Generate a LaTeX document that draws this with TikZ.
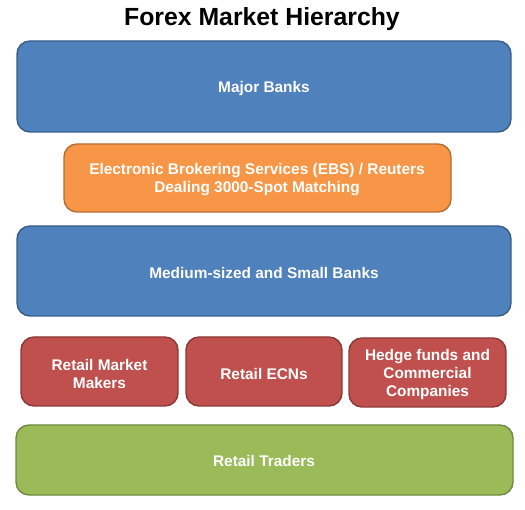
\documentclass[tikz,border=0pt]{standalone}
\usepackage{fontspec}
\setmainfont{Liberation Sans}
\definecolor{bfill}{HTML}{4F81BD}\definecolor{bdraw}{HTML}{385D8A}
\definecolor{ofill}{HTML}{F79646}\definecolor{odraw}{HTML}{B66D31}
\definecolor{rfill}{HTML}{C0504D}\definecolor{rdraw}{HTML}{8C3836}
\definecolor{gfill}{HTML}{9BBB59}\definecolor{gdraw}{HTML}{71893F}
\tikzset{
  layer/.style={rounded corners=13pt, line width=1.4pt},
  blue/.style={layer, fill=bfill, draw=bdraw},
  orange/.style={layer, fill=ofill, draw=odraw},
  red/.style={layer, fill=rfill, draw=rdraw},
  green/.style={layer, fill=gfill, draw=gdraw},
  label/.style={text=white, font=\bfseries\fontsize{15.4}{18}\selectfont, align=center, inner sep=0pt},
}
\begin{document}
\begin{tikzpicture}[x=1pt,y=-1pt]
\useasboundingbox (0,0) rectangle (525,510);
\node[font=\bfseries\fontsize{24.8}{28}\selectfont] (title) at (262,19) {Forex Market Hierarchy};
\draw[blue] (17,41) rectangle (511,132);
\node[label] (major) at (264,88.5) {Major Banks};
\draw[orange] (64,144) rectangle (451,212);
\node[label] (ebs) at (257,180) {Electronic Brokering Services (EBS) / Reuters\\Dealing 3000-Spot Matching};
\draw[blue] (17,226) rectangle (511,316);
\node[label] (medium) at (264,272.5) {Medium-sized and Small Banks};
\draw[red] (21,337) rectangle (178,406);
\node[label] (rmm) at (99.5,373.5) {Retail Market\\Makers};
\draw[red] (186,337) rectangle (342,406);
\node[label] (ecn) at (264,373.5) {Retail ECNs};
\draw[red] (349,338) rectangle (506,407);
\node[label] (hedge) at (427.5,375) {Hedge funds and\\Commercial\\Companies};
\draw[green] (16,425) rectangle (513,495);
\node[label] (traders) at (264,461) {Retail Traders};
\end{tikzpicture}
\end{document}
